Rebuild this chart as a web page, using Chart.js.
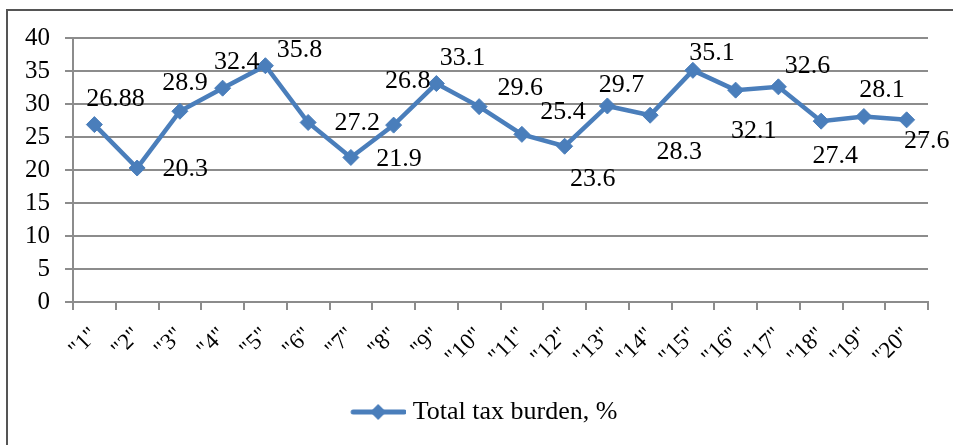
<!DOCTYPE html>
<html>
<head>
<meta charset="utf-8">
<script src="https://cdn.jsdelivr.net/npm/chart.js@4/dist/chart.umd.min.js"></script>
<style>
  body { margin: 0; background: #fff; }
  canvas { display: block; }
</style>
</head>
<body>
<canvas id="taxChart" width="953" height="445"></canvas>
<script>
// Daten aus dem Diagramm
const categories = ['"1"', '"2"', '"3"', '"4"', '"5"', '"6"', '"7"', '"8"', '"9"', '"10"',
                    '"11"', '"12"', '"13"', '"14"', '"15"', '"16"', '"17"', '"18"', '"19"', '"20"'];
const taxBurden = [26.88, 20.3, 28.9, 32.4, 35.8, 27.2, 21.9, 26.8, 33.1, 29.6,
                   25.4, 23.6, 29.7, 28.3, 35.1, 32.1, 32.6, 27.4, 28.1, 27.6];
const seriesName = 'Total tax burden, %';
const yTicks = [0, 5, 10, 15, 20, 25, 30, 35, 40];

// Verschiebung der Wertbeschriftungen relativ zum Punkt (Pixel)
const labelOffsets = [
    [21, -25], [48, 1], [5, -28], [14, -26], [34, -16],
    [49, 1], [48, 2], [14, -44], [26, -25], [41, -18],
    [41, -22], [28, 33], [14, -21], [29, 37], [19, -17],
    [18, 41], [29, -21], [14, 35], [18, -26], [20, 21]
];

const lineColor = '#4a7ebb';
const gridColor = '#8c8c8c';
const serif = "'Liberation Serif', 'Times New Roman', serif";

// Legendensymbol: Linie mit Raute (rechts versetzt im Bild)
const legendIcon = document.createElement('canvas');
legendIcon.width = 82;
legendIcon.height = 20;
(function () {
    const c = legendIcon.getContext('2d');
    c.strokeStyle = lineColor;
    c.lineWidth = 5;
    c.lineCap = 'round';
    c.beginPath();
    c.moveTo(29, 10);
    c.lineTo(80, 10);
    c.stroke();
    c.fillStyle = lineColor;
    c.beginPath();
    c.moveTo(54, 2);
    c.lineTo(62, 10);
    c.lineTo(54, 18);
    c.lineTo(46, 10);
    c.closePath();
    c.fill();
})();

// Rahmen um das Diagramm
const framePlugin = {
    id: 'frame',
    beforeDraw(chart) {
        const ctx = chart.ctx;
        ctx.save();
        ctx.fillStyle = '#fff';
        ctx.fillRect(0, 0, chart.width, chart.height);
        ctx.strokeStyle = '#555';
        ctx.lineWidth = 2;
        ctx.beginPath();
        ctx.moveTo(7, chart.height);
        ctx.lineTo(7, 10);
        ctx.lineTo(chart.width, 10);
        ctx.stroke();
        ctx.restore();
    }
};

// Wertbeschriftungen an den Punkten
const valueLabels = {
    id: 'valueLabels',
    afterDatasetsDraw(chart) {
        const ctx = chart.ctx;
        const meta = chart.getDatasetMeta(0);
        ctx.save();
        ctx.font = '26px ' + serif;
        ctx.fillStyle = '#000';
        ctx.textAlign = 'center';
        ctx.textBaseline = 'middle';
        meta.data.forEach((pt, i) => {
            const off = labelOffsets[i] || [0, -20];
            ctx.fillText(String(taxBurden[i]), pt.x + off[0], pt.y + off[1]);
        });
        ctx.restore();
    }
};

Chart.defaults.color = '#000';

new Chart(document.getElementById('taxChart'), {
    type: 'line',
    data: {
        labels: categories,
        datasets: [{
            label: seriesName,
            data: taxBurden,
            borderColor: lineColor,
            backgroundColor: lineColor,
            borderWidth: 4.5,
            pointStyle: 'rectRot',
            pointRadius: 8,
            pointBorderWidth: 1,
            pointBackgroundColor: lineColor,
            pointBorderColor: lineColor,
            tension: 0
        }]
    },
    options: {
        responsive: false,
        animation: false,
        layout: { padding: { top: 38, left: 20, right: 25, bottom: 10 } },
        plugins: {
            tooltip: { enabled: false },
            legend: {
                position: 'bottom',
                labels: {
                    usePointStyle: true,
                    pointStyle: legendIcon,
                    pointStyleWidth: 69,
                    color: '#000',
                    font: { family: serif, size: 26 },
                    padding: 10
                }
            }
        },
        scales: {
            x: {
                offset: true,
                afterFit(scale) { scale.height = 87; },
                grid: {
                    offset: true,
                    drawOnChartArea: false,
                    drawTicks: true,
                    tickLength: 8,
                    color: gridColor,
                    lineWidth: 2
                },
                border: { color: gridColor, width: 2 },
                ticks: {
                    minRotation: 45,
                    maxRotation: 45,
                    autoSkip: false,
                    padding: 12,
                    color: '#000',
                    font: { family: serif, size: 23 }
                }
            },
            y: {
                min: 0,
                max: 40,
                afterFit(scale) { scale.width = 53; },
                afterBuildTicks(scale) { scale.ticks = yTicks.map(v => ({ value: v })); },
                grid: {
                    color: gridColor,
                    lineWidth: 2,
                    tickLength: 8
                },
                border: { color: gridColor, width: 2 },
                ticks: {
                    padding: 15,
                    color: '#000',
                    font: { family: serif, size: 25 }
                }
            }
        }
    },
    plugins: [framePlugin, valueLabels]
});
</script>
</body>
</html>
